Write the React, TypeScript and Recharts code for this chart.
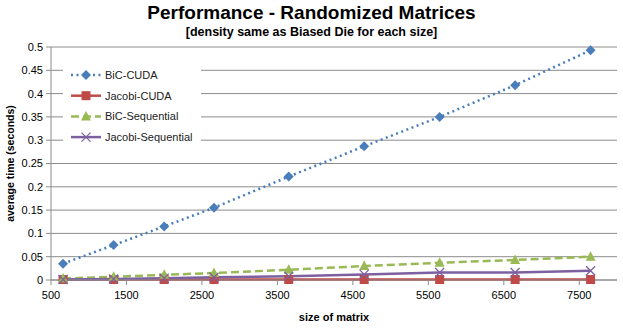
import { CartesianGrid, Label, Legend, Line, LineChart, XAxis, YAxis } from "recharts";

const SIZES = [660, 1330, 2000, 2660, 3650, 4650, 5650, 6650, 7650];
const BIC_CUDA = [0.035, 0.075, 0.115, 0.155, 0.222, 0.287, 0.35, 0.418, 0.493];
const JACOBI_CUDA = [0.001, 0.001, 0.001, 0.001, 0.001, 0.001, 0.001, 0.001, 0.001];
const BIC_SEQ = [0.003, 0.007, 0.011, 0.015, 0.022, 0.03, 0.037, 0.043, 0.05];
const JACOBI_SEQ = [0.001, 0.002, 0.004, 0.006, 0.008, 0.012, 0.016, 0.016, 0.02];
const X_TICKS = [500, 1500, 2500, 3500, 4500, 5500, 6500, 7500];
const Y_TICKS = [0, 0.05, 0.1, 0.15, 0.2, 0.25, 0.3, 0.35, 0.4, 0.45, 0.5];

const FONT = "'Liberation Sans', Arial, sans-serif";
const GRID = "#8c8c8c";

const data = SIZES.map((s, i) => ({
  size: s,
  bicCuda: BIC_CUDA[i],
  jacobiCuda: JACOBI_CUDA[i],
  bicSeq: BIC_SEQ[i],
  jacobiSeq: JACOBI_SEQ[i],
}));

type Shape = "diamond" | "square" | "triangle" | "cross";

function Marker({ cx, cy, shape, color }: { cx: number; cy: number; shape: Shape; color: string }) {
  if (cx == null || cy == null) return null;
  if (shape === "diamond")
    return <path d={`M${cx},${cy - 5} L${cx + 5},${cy} L${cx},${cy + 5} L${cx - 5},${cy} Z`} fill={color} />;
  if (shape === "square") return <rect x={cx - 4.5} y={cy - 4.5} width={9} height={9} fill={color} />;
  if (shape === "triangle")
    return <path d={`M${cx},${cy - 5.5} L${cx + 5},${cy + 4} L${cx - 5},${cy + 4} Z`} fill={color} />;
  return (
    <path
      d={`M${cx - 4.5},${cy - 4.5} L${cx + 4.5},${cy + 4.5} M${cx - 4.5},${cy + 4.5} L${cx + 4.5},${cy - 4.5}`}
      stroke={color}
      strokeWidth={1.3}
    />
  );
}

const SERIES = [
  { key: "bicCuda", name: "BiC-CUDA", color: "#4a7ebb", shape: "diamond" as Shape, dash: "2 3.5" },
  { key: "jacobiCuda", name: "Jacobi-CUDA", color: "#be4b48", shape: "square" as Shape, dash: undefined },
  { key: "bicSeq", name: "BiC-Sequential", color: "#98b954", shape: "triangle" as Shape, dash: "8 4" },
  { key: "jacobiSeq", name: "Jacobi-Sequential", color: "#7d60a0", shape: "cross" as Shape, dash: undefined },
];

function LegendBox() {
  return (
    <div style={{ background: "#fff", width: 138, height: 88, position: "relative" }}>
      <svg width={138} height={88} style={{ position: "absolute", left: 0, top: 0 }}>
        {SERIES.map((s, i) => {
          const y = 13 + i * 20.7;
          return (
            <g key={s.key}>
              <line x1={8} x2={38} y1={y} y2={y} stroke={s.color} strokeWidth={2.5} strokeDasharray={s.dash} />
              <Marker cx={23} cy={y} shape={s.shape} color={s.color} />
              <text x={42} y={y + 4} fontSize={11} fontFamily={FONT} fill="#222">
                {s.name}
              </text>
            </g>
          );
        })}
      </svg>
    </div>
  );
}

export default function App() {
  return (
    <div style={{ position: "absolute", left: 0, top: 0, width: 623, height: 328, background: "#fff" }}>
      <div
        style={{
          position: "absolute",
          top: 2,
          left: 0,
          width: 623,
          textAlign: "center",
          fontFamily: FONT,
          fontWeight: "bold",
          fontSize: 19,
          color: "#000",
        }}
      >
        Performance - Randomized Matrices
      </div>
      <div
        style={{
          position: "absolute",
          top: 25,
          left: 0,
          width: 623,
          textAlign: "center",
          fontFamily: FONT,
          fontWeight: "bold",
          fontSize: 12.5,
          color: "#000",
        }}
      >
        [density same as Biased Die for each size]
      </div>
      <LineChart width={623} height={328} data={data} margin={{ top: 47, right: 6, bottom: 0, left: 0 }}>
        <CartesianGrid stroke={GRID} vertical={false} />
        <XAxis
          dataKey="size"
          type="number"
          domain={[500, 8000]}
          ticks={X_TICKS}
          height={48}
          tick={{ fill: "#000", fontSize: 11, fontFamily: FONT }}
          tickLine={{ stroke: GRID }}
          tickSize={5}
          tickMargin={6}
          axisLine={{ stroke: GRID }}
        >
          <Label
            value="size of matrix"
            position="insideBottom"
            offset={7}
            style={{ fontFamily: FONT, fontWeight: "bold", fontSize: 11, fill: "#000" }}
          />
        </XAxis>
        <YAxis
          type="number"
          domain={[0, 0.5]}
          ticks={Y_TICKS}
          width={51}
          tick={{ fill: "#000", fontSize: 11, fontFamily: FONT }}
          tickLine={{ stroke: GRID }}
          tickSize={5}
          tickMargin={3}
          axisLine={{ stroke: GRID }}
        >
          <Label
            value="average time (seconds)"
            angle={-90}
            position="insideLeft"
            offset={10}
            style={{ textAnchor: "middle", fontFamily: FONT, fontWeight: "bold", fontSize: 10.5, fill: "#000" }}
          />
        </YAxis>
        <Legend
          layout="vertical"
          align="center"
          verticalAlign="middle"
          wrapperStyle={{ left: 63, top: 62, width: 138 }}
          content={() => <LegendBox />}
        />
        {SERIES.map((s) => (
          <Line
            key={s.key}
            type="linear"
            dataKey={s.key}
            name={s.name}
            stroke={s.color}
            strokeWidth={2.5}
            strokeDasharray={s.dash}
            isAnimationActive={false}
            dot={(p: any) => <Marker key={`${s.key}-${p.index}`} cx={p.cx} cy={p.cy} shape={s.shape} color={s.color} />}
            activeDot={false}
          />
        ))}
      </LineChart>
    </div>
  );
}
